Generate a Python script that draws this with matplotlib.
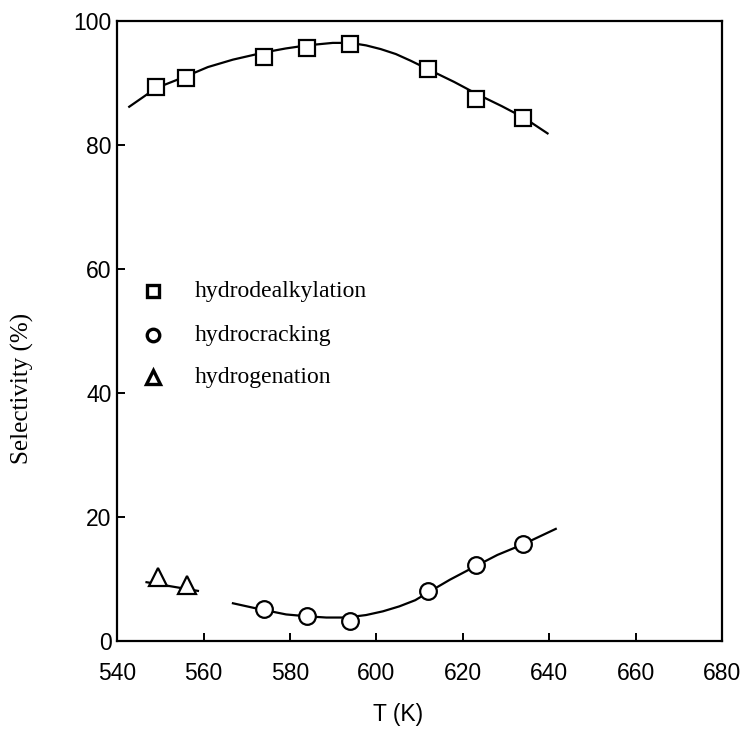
import matplotlib
matplotlib.use("Agg")
import matplotlib.pyplot as plt

# Measured points
T_hda = [549, 556, 574, 584, 594, 612, 623, 634]
S_hda = [89.4, 90.8, 94.3, 95.7, 96.4, 92.3, 87.5, 84.4]
T_hc = [574, 584, 594, 612, 623, 634]
S_hc = [5.2, 4.0, 3.3, 8.1, 12.3, 15.7]
T_hg = [549.5, 556.2]
S_hg = [10.4, 9.0]

# Curves
T_hda_curve = [542.8, 549, 555.9, 561, 566.8, 574.3, 579, 583.9, 589.9, 594, 597.6, 601, 604.5, 608, 611.8, 618, 623.4, 629, 634.2, 639.6]
S_hda_curve = [86.2, 89.2, 91.1, 92.6, 93.8, 95.0, 95.6, 96.1, 96.5, 96.5, 96.1, 95.5, 94.7, 93.6, 92.3, 90.2, 88.2, 86.3, 84.4, 81.9]
T_hc_curve = [566.8, 572, 579.1, 583.9, 588.4, 593, 597.6, 601.5, 605.3, 609, 612.1, 617, 623, 628, 633.9, 641.5]
S_hc_curve = [6.1, 5.3, 4.3, 4.0, 3.8, 3.8, 4.2, 4.8, 5.6, 6.6, 7.9, 9.9, 12.1, 13.9, 15.6, 18.1]
T_hg_curve = [546.8, 558.7]
S_hg_curve = [9.5, 8.1]

x_ticks = [540, 560, 580, 600, 620, 640, 660, 680]
y_ticks = [0, 20, 40, 60, 80, 100]
labels = ["hydrodealkylation", "hydrocracking", "hydrogenation"]
legend_markers = ["s", "o", "^"]

fig = plt.figure(figsize=(7.46, 7.31), dpi=100)
ax = fig.add_axes([0.157, 0.123, 0.811, 0.848])

lw = 1.6
ax.plot(T_hda_curve, S_hda_curve, color="black", lw=lw, zorder=2)
ax.plot(T_hc_curve, S_hc_curve, color="black", lw=lw, zorder=2)
ax.plot(T_hg_curve, S_hg_curve, color="black", lw=lw, zorder=2)

ax.plot(T_hda, S_hda, linestyle="none", marker="s", ms=11, mfc="white", mec="black", mew=1.6, zorder=3)
ax.plot(T_hc, S_hc, linestyle="none", marker="o", ms=12, mfc="white", mec="black", mew=1.6, zorder=3)
ax.plot(T_hg, S_hg, linestyle="none", marker="^", ms=13, mfc="white", mec="black", mew=1.6, zorder=3)

ax.set_xlim(540, 680)
ax.set_ylim(0, 100)
ax.set_xticks(x_ticks)
ax.set_yticks(y_ticks)
ax.tick_params(direction="in", length=6, width=1.4, labelsize=16.5)
ax.tick_params(axis="x", pad=15)
ax.tick_params(axis="y", pad=4)
for lab in ax.get_xticklabels() + ax.get_yticklabels():
    lab.set_fontfamily("Liberation Sans")
for sp in ax.spines.values():
    sp.set_linewidth(1.6)

ax.set_xlabel("T (K)", fontsize=16.5, fontfamily="Liberation Sans")
ax.xaxis.set_label_coords(0.464, -0.1)
ax.set_ylabel("Selectivity (%)", fontsize=18, fontfamily="Liberation Serif")
ax.yaxis.set_label_coords(-0.138, 0.408)

# manual legend
leg_y = [0.5645, 0.4935, 0.426]
leg_ms = [8, 9, 10]
for m, lab, yy, ms in zip(legend_markers, labels, leg_y, leg_ms):
    ax.plot([0.0595], [yy], transform=ax.transAxes, linestyle="none", marker=m, ms=ms,
            mfc="white", mec="black", mew=2.4, clip_on=False)
    ax.text(0.129, yy, lab, transform=ax.transAxes, ha="left", va="center",
            fontsize=17, fontfamily="Liberation Serif")

fig.savefig("out.png", dpi=100)
